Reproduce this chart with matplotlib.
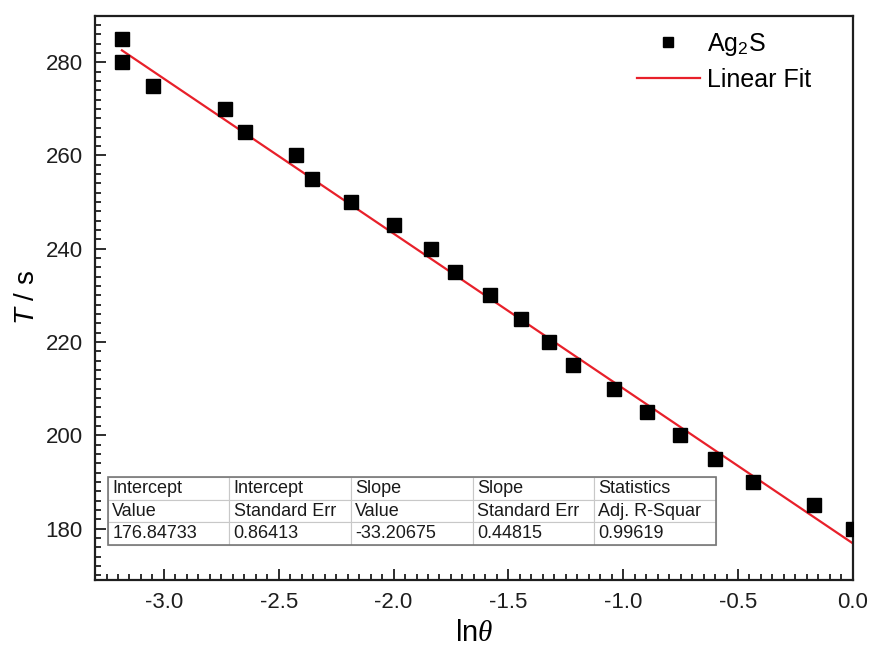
import matplotlib
matplotlib.use("Agg")
import matplotlib.pyplot as plt
from matplotlib.ticker import MultipleLocator, FormatStrFormatter
from matplotlib.patches import Rectangle

plt.rcParams["font.family"] = "Liberation Sans"
plt.rcParams["mathtext.fontset"] = "custom"
plt.rcParams["mathtext.rm"] = "Liberation Sans"
plt.rcParams["mathtext.sf"] = "Liberation Sans:italic"
plt.rcParams["mathtext.it"] = "Liberation Serif:italic"

# ln(theta) vs. time for Ag2S
ln_theta = [-3.183, -3.183, -3.048, -2.733, -2.646, -2.424, -2.355, -2.185,
            -1.997, -1.837, -1.731, -1.578, -1.444, -1.324, -1.219, -1.041,
            -0.898, -0.753, -0.602, -0.433, -0.171, 0.0]
T_s = [285, 280, 275, 270, 265, 260, 255, 250, 245, 240, 235, 230,
       225, 220, 215, 210, 205, 200, 195, 190, 185, 180]

# linear fit results
intercept = 176.84733
intercept_err = 0.86413
slope = -33.20675
slope_err = 0.44815
adj_r2 = 0.99619

table_rows = [
    ["Intercept", "Intercept", "Slope", "Slope", "Statistics"],
    ["Value", "Standard Err", "Value", "Standard Err", "Adj. R-Squar"],
    [f"{intercept:.5f}", f"{intercept_err:.5f}", f"{slope:.5f}",
     f"{slope_err:.5f}", f"{adj_r2:.5f}"],
]

fig = plt.figure(figsize=(8.72, 6.48), dpi=100)
ax = fig.add_axes([0.109, 0.105, 0.869, 0.871])

ax.plot(ln_theta, T_s, "s", color="black", markersize=10.5, label="Ag$_2$S",
        zorder=3)

fit_x = [min(ln_theta), max(ln_theta)]
fit_y = [intercept + slope * x for x in fit_x]
ax.plot(fit_x, fit_y, color="#e8202a", lw=1.6, label="Linear Fit", zorder=2)

ax.set_xlim(-3.3, 0.0)
ax.set_ylim(169, 290)
ax.xaxis.set_major_locator(MultipleLocator(0.5))
ax.xaxis.set_minor_locator(MultipleLocator(0.05))
ax.yaxis.set_major_locator(MultipleLocator(20))
ax.yaxis.set_minor_locator(MultipleLocator(2))
ax.xaxis.set_major_formatter(FormatStrFormatter("%.1f"))

ax.tick_params(which="both", direction="in", top=False, right=False,
               labelsize=16, width=1.3, colors="#1e1e1e")
ax.tick_params(which="major", length=8, pad=9)
ax.tick_params(which="minor", length=4)
for sp in ax.spines.values():
    sp.set_linewidth(1.6)
    sp.set_color("#1e1e1e")

ax.set_xlabel(r"ln$\theta$", fontsize=21, labelpad=4)
ax.set_ylabel(r"$\mathsf{T}$ / s", fontsize=20, labelpad=4)

ax.legend(loc="upper right", frameon=False, fontsize=18, markerscale=0.7,
          handlelength=2.5, handletextpad=0.3, borderaxespad=0.2,
          labelspacing=0.4, bbox_to_anchor=(0.965, 1.0))

tbl = ax.table(cellText=table_rows, cellLoc="left",
               bbox=[0.017, 0.062, 0.802, 0.12])
tbl.auto_set_font_size(False)
tbl.set_fontsize(13)
for (r, c), cell in tbl.get_celld().items():
    cell.set_edgecolor("#c8c8c8")
    cell.set_linewidth(0.8)
    cell.set_facecolor("white")
    cell.PAD = 0.035
    cell.get_text().set_color("#1a1a1a")
ax.add_patch(Rectangle((0.017, 0.062), 0.802, 0.12, transform=ax.transAxes,
                       fill=False, edgecolor="#777777", lw=1.2, zorder=10))

fig.savefig("out.png", dpi=100)
